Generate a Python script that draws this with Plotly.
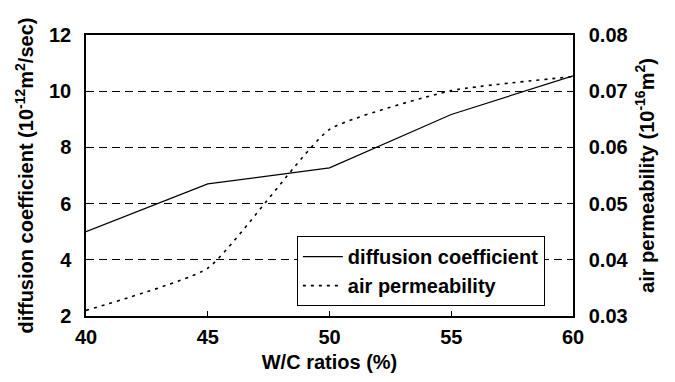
import plotly.graph_objects as go

# W/C ratio (%) on the x axis
wc_ratio = [40, 45, 50, 55, 60]
# chloride diffusion coefficient (10^-12 m^2/sec), left axis
diffusion = [5.0, 6.7, 7.27, 9.17, 10.55]
# air permeability (10^-16 m^2), right axis
air_perm = [0.031, 0.0385, 0.0632, 0.0701, 0.0726]

x_ticks = [40, 45, 50, 55, 60]
y1_ticks = [2, 4, 6, 8, 10, 12]
y2_ticks = [0.03, 0.04, 0.05, 0.06, 0.07, 0.08]

FONT = "Liberation Sans, Arial, sans-serif"
tick_font = dict(family=FONT, size=20, color="black", weight="bold")
title_font = dict(family=FONT, size=20, color="black", weight="bold")

fig = go.Figure()
fig.add_trace(go.Scatter(
    x=wc_ratio, y=diffusion, name="diffusion coefficient", mode="lines",
    line=dict(color="black", width=1.2), yaxis="y"))
fig.add_trace(go.Scatter(
    x=wc_ratio, y=air_perm, name="air permeability", mode="lines",
    line=dict(color="black", width=1.6, dash="3px,5px", shape="spline", smoothing=0.45),
    yaxis="y2"))

fig.update_layout(
    width=675, height=382,
    margin=dict(l=86, r=102, t=35, b=64),
    paper_bgcolor="white", plot_bgcolor="white",
    font=dict(family=FONT, color="black"),
    showlegend=True,
    legend=dict(
        x=0.433, y=0.035, xanchor="left", yanchor="bottom",
        bgcolor="white", bordercolor="black", borderwidth=1,
        font=dict(family=FONT, size=20, color="black", weight="bold"),
        tracegroupgap=0, itemwidth=40),
    xaxis=dict(
        range=[40, 60], tickvals=x_ticks, ticks="inside", ticklen=5,
        tickcolor="black", showline=True, linecolor="black", linewidth=1.5,
        mirror=True, showgrid=False, zeroline=False, tickfont=tick_font,
        ticklabelstandoff=2,
        title=dict(text="W/C ratios (%)", font=title_font, standoff=8)),
    yaxis=dict(
        range=[2, 12], tickvals=y1_ticks, ticks="", showline=True,
        linecolor="black", linewidth=1.5, showgrid=True, gridcolor="black",
        gridwidth=1, griddash="8px,5px", zeroline=False, tickfont=tick_font,
        ticklabelstandoff=9,
        title=dict(text="diffusion coefficient (10<sup>-12</sup>m<sup>2</sup>/sec)",
                   font=title_font, standoff=10)),
    yaxis2=dict(
        range=[0.03, 0.08], tickvals=y2_ticks, tickformat=".2f",
        overlaying="y", side="right", ticks="", showline=True,
        linecolor="black", linewidth=1.5, showgrid=False, zeroline=False,
        tickfont=tick_font, ticklabelstandoff=10,
        title=dict(text="air permeability (10<sup>-16</sup>m<sup>2</sup>)",
                   font=title_font, standoff=12)),
)

fig.write_html("out.html")
